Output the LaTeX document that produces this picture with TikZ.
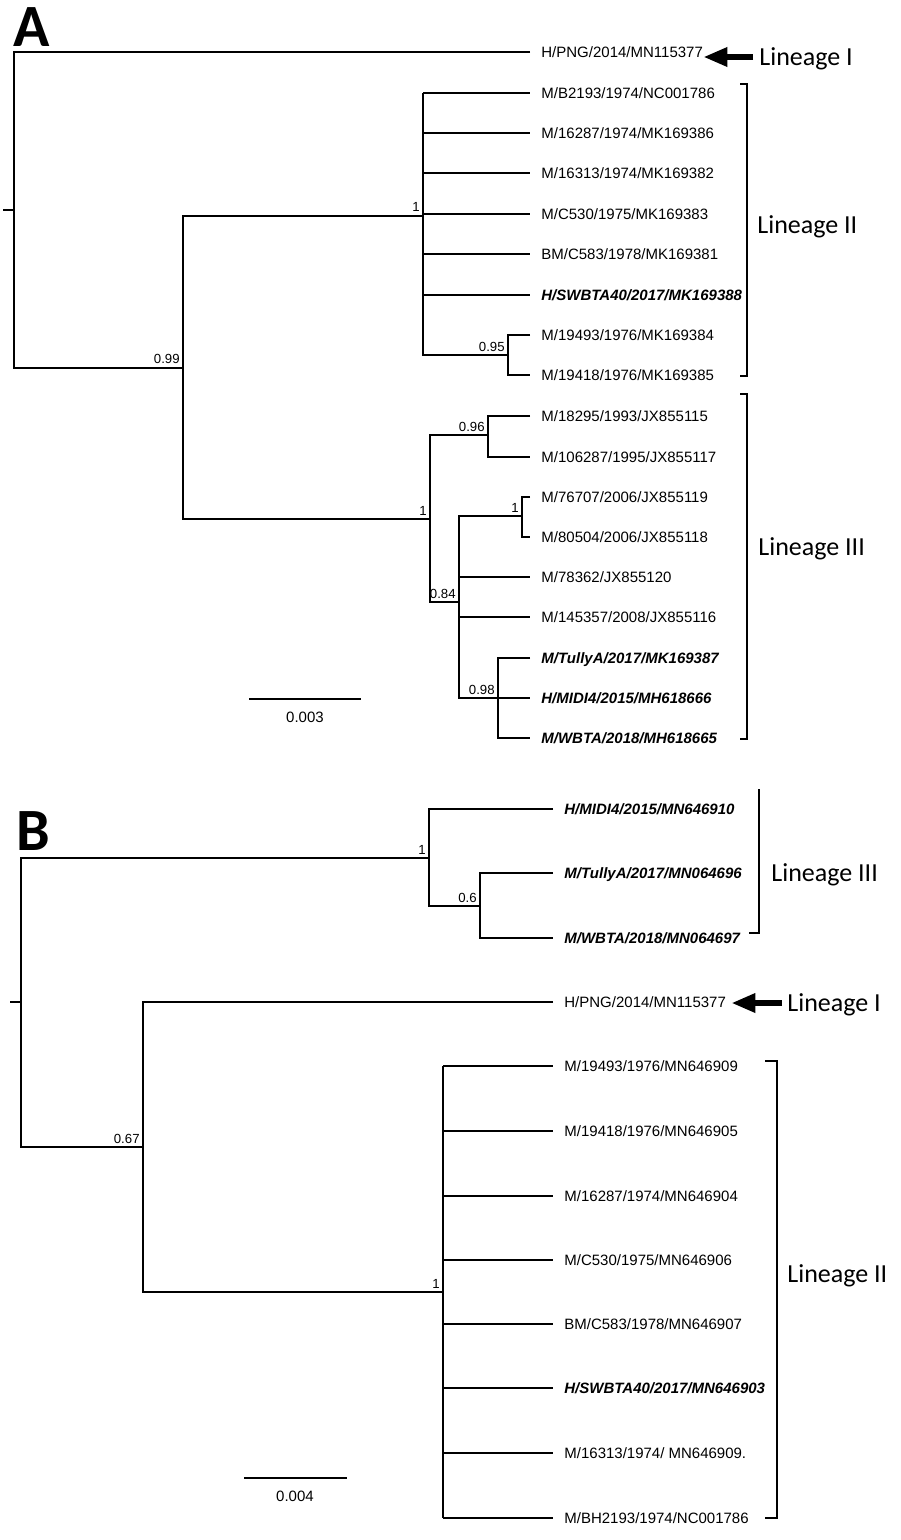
\documentclass[tikz,border=0pt]{standalone}
\usepackage{fontspec}
\setmainfont{Liberation Sans}
\newfontfamily\calibri{Carlito}
\usetikzlibrary{arrows.meta}

\begin{document}
\begin{tikzpicture}[x=0.5pt,y=-0.5pt,
  br/.style={line width=0.9pt},
  leaf/.style={anchor=west,inner sep=0pt,font=\fontsize{7.5}{9}\selectfont,text height=5.4pt,text depth=0pt},
  hl/.style={leaf,font=\fontsize{7.5}{9}\selectfont\bfseries\itshape},
  supp/.style={anchor=base east,inner sep=0pt,font=\fontsize{6.6}{8}\selectfont,xshift=-1.5pt,yshift=2pt},
  lin/.style={anchor=west,inner sep=0pt,font=\calibri\fontsize{13}{15}\selectfont,text height=8.4pt,text depth=0pt},
  panel/.style={anchor=base west,inner sep=0pt,font=\calibri\bfseries\fontsize{30}{32}\selectfont},
  bigarrow/.style={line width=3pt,-{Triangle[length=12pt,width=9pt]}}]
  \useasboundingbox (0,0) rectangle (900,1540);

  % ---------------- Panel A ----------------
  \node[panel] (pA) at (13,47) {A};

  % Leaves
  \node[leaf] (a1) at (541,52) {H/PNG/2014/MN115377};
  \node[leaf] (a2) at (541,93) {M/B2193/1974/NC001786};
  \node[leaf] (a3) at (541,133) {M/16287/1974/MK169386};
  \node[leaf] (a4) at (541,173) {M/16313/1974/MK169382};
  \node[leaf] (a5) at (541,214) {M/C530/1975/MK169383};
  \node[leaf] (a6) at (541,254) {BM/C583/1978/MK169381};
  \node[hl]   (a7) at (541,295) {H/SWBTA40/2017/MK169388};
  \node[leaf] (a8) at (541,335) {M/19493/1976/MK169384};
  \node[leaf] (a9) at (541,375) {M/19418/1976/MK169385};
  \node[leaf] (a10) at (541,416) {M/18295/1993/JX855115};
  \node[leaf] (a11) at (541,457) {M/106287/1995/JX855117};
  \node[leaf] (a12) at (541,497) {M/76707/2006/JX855119};
  \node[leaf] (a13) at (541,537) {M/80504/2006/JX855118};
  \node[leaf] (a14) at (541,577) {M/78362/JX855120};
  \node[leaf] (a15) at (541,617) {M/145357/2008/JX855116};
  \node[hl]   (a16) at (541,658) {M/TullyA/2017/MK169387};
  \node[hl]   (a17) at (541,698) {H/MIDI4/2015/MH618666};
  \node[hl]   (a18) at (541,738) {M/WBTA/2018/MH618665};

  % Internal nodes
  \coordinate (rA) at (14,210);
  \coordinate (n099) at (183,368);
  \coordinate (nII) at (423,216);
  \coordinate (n095) at (508,355);
  \coordinate (nIII) at (430,519);
  \coordinate (n096) at (488,435);
  \coordinate (n084) at (459,602);
  \coordinate (n1c) at (522,516);
  \coordinate (n098) at (498,698);

  % Branches
  \draw[br] (3,210) -- (rA);
  \draw[br] ([xshift=-5.5pt]a1.west) -| (rA |- n099) -- (n099);
  \draw[br] (nII) -| (n099) |- (nIII);
  \draw[br] (nII |- a2) -- (nII |- n095) -- (n095);
  \foreach \l in {a2,a3,a4,a5,a6,a7}
    \draw[br] (nII |- \l) -- ([xshift=-5.5pt]\l.west);
  \draw[br] ([xshift=-5.5pt]a8.west) -| (n095) |- ([xshift=-5.5pt]a9.west);
  \draw[br] (n096) -| (nIII) |- (n084);
  \draw[br] ([xshift=-5.5pt]a10.west) -| (n096) |- ([xshift=-5.5pt]a11.west);
  \draw[br] (n1c) -| (n084) |- (n098);
  \draw[br] ([xshift=-5.5pt]a12.west) -| (n1c) |- ([xshift=-5.5pt]a13.west);
  \foreach \l in {a14,a15}
    \draw[br] (n084 |- \l) -- ([xshift=-5.5pt]\l.west);
  \draw[br] ([xshift=-5.5pt]a16.west) -| (n098) |- ([xshift=-5.5pt]a18.west);
  \draw[br] (n098) -- ([xshift=-5.5pt]a17.west);

  % Support values
  \node[supp] (s099) at (n099) {0.99};
  \node[supp] (sII) at (nII) {1};
  \node[supp] (s095) at (n095) {0.95};
  \node[supp] (sIII) at (nIII) {1};
  \node[supp] (s096) at (n096) {0.96};
  \node[supp] (s084) at (n084) {0.84};
  \node[supp] (s1c) at (n1c) {1};
  \node[supp] (s098) at (n098) {0.98};

  % Scale bar
  \coordinate (scA1) at (249,699);
  \coordinate (scA2) at (361,699);
  \draw[br] (scA1) -- (scA2);
  \node[leaf,anchor=center] (scA) at (305,717) {0.003};

  % Lineages
  \node[lin] (lin1A) at (759,57) {Lineage I};
  \draw[bigarrow,shorten <=3pt] (lin1A.west) -- (lin1A.west -| a1.east);
  \draw[br] (740,84) -- (747,84) -- (747,376) -- (740,376);
  \node[lin] (lin2A) at (757,225) {Lineage II};
  \draw[br] (740,394) -- (747,394) -- (747,739) -- (740,739);
  \node[lin] (lin3A) at (758,547) {Lineage III};

  % ---------------- Panel B ----------------
  \node[panel] (pB) at (16,850) {B};

  % Leaves
  \node[hl]   (b1) at (564,809) {H/MIDI4/2015/MN646910};
  \node[hl]   (b2) at (564,873) {M/TullyA/2017/MN064696};
  \node[hl]   (b3) at (564,938) {M/WBTA/2018/MN064697};
  \node[leaf] (b4) at (564,1002) {H/PNG/2014/MN115377};
  \node[leaf] (b5) at (564,1066) {M/19493/1976/MN646909};
  \node[leaf] (b6) at (564,1131) {M/19418/1976/MN646905};
  \node[leaf] (b7) at (564,1196) {M/16287/1974/MN646904};
  \node[leaf] (b8) at (564,1260) {M/C530/1975/MN646906};
  \node[leaf] (b9) at (564,1324) {BM/C583/1978/MN646907};
  \node[hl]   (b10) at (564,1388) {H/SWBTA40/2017/MN646903};
  \node[leaf] (b11) at (564,1453) {M/16313/1974/ MN646909.};
  \node[leaf] (b12) at (564,1518) {M/BH2193/1974/NC001786};

  % Internal nodes
  \coordinate (rB) at (21,1002);
  \coordinate (n1B) at (429,858);
  \coordinate (n06) at (480,906);
  \coordinate (n067) at (143,1147);
  \coordinate (nIIB) at (443,1292);

  % Branches
  \draw[br] (10,1002) -- (rB);
  \draw[br] (n1B) -| (rB) |- (n067);
  \draw[br] ([xshift=-5.5pt]b1.west) -| (n1B) |- (n06);
  \draw[br] ([xshift=-5.5pt]b2.west) -| (n06) |- ([xshift=-5.5pt]b3.west);
  \draw[br] ([xshift=-5.5pt]b4.west) -| (n067) |- (nIIB);
  \draw[br] (nIIB |- b5) -- (nIIB |- b12);
  \foreach \l in {b5,b6,b7,b8,b9,b10,b11,b12}
    \draw[br] (nIIB |- \l) -- ([xshift=-5.5pt]\l.west);

  % Support values
  \node[supp] (s1B) at (n1B) {1};
  \node[supp] (s06) at (n06) {0.6};
  \node[supp] (s067) at (n067) {0.67};
  \node[supp] (sIIB) at (nIIB) {1};

  % Scale bar
  \coordinate (scB1) at (244,1478);
  \coordinate (scB2) at (347,1478);
  \draw[br] (scB1) -- (scB2);
  \node[leaf,anchor=center] (scB) at (295,1496) {0.004};

  % Lineages
  \draw[br] (759,789) -- (759,933) -- (749,933);
  \node[lin] (lin3B) at (771,873) {Lineage III};
  \node[lin] (lin1B) at (787,1003) {Lineage I};
  \draw[bigarrow,shorten <=2.5pt,shorten >=2.5pt] (lin1B.west) -- (lin1B.west -| b4.east);
  \draw[br] (765,1061) -- (777,1061) -- (777,1518) -- (765,1518);
  \node[lin] (lin2B) at (787,1274) {Lineage II};
\end{tikzpicture}
\end{document}
